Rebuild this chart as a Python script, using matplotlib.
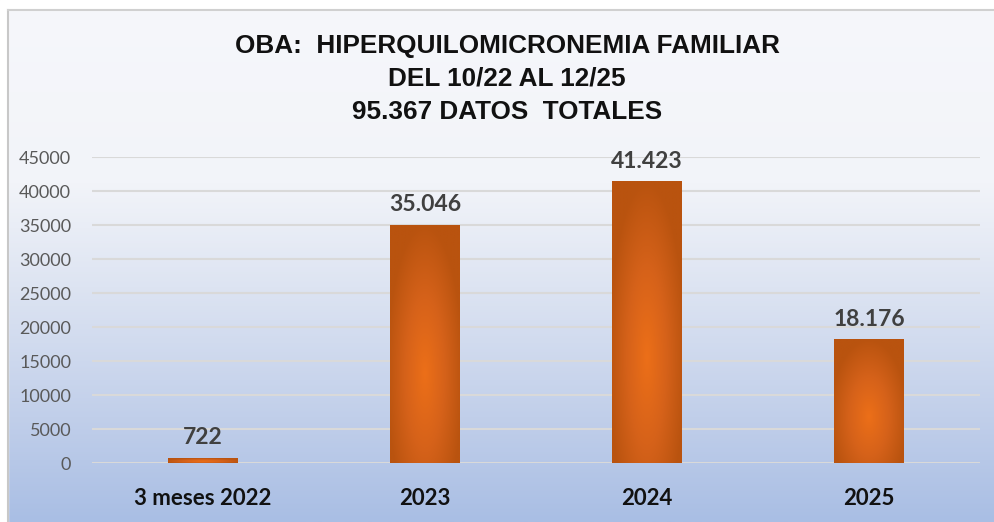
import numpy as np
import matplotlib
matplotlib.use("Agg")
import matplotlib.pyplot as plt
from matplotlib.colors import LinearSegmentedColormap

categories = ["3 meses 2022", "2023", "2024", "2025"]
values = [722, 35046, 41423, 18176]
value_labels = ["722", "35.046", "41.423", "18.176"]
yticks = [0, 5000, 10000, 15000, 20000, 25000, 30000, 35000, 40000, 45000]
title_lines = ["OBA:  HIPERQUILOMICRONEMIA FAMILIAR", "DEL 10/22 AL 12/25", "95.367 DATOS  TOTALES"]

W, H = 994, 522
fig = plt.figure(figsize=(W / 100, H / 100), dpi=100)

# background gradient
bg = fig.add_axes([0, 0, 1, 1], zorder=-10)
bg_cmap = LinearSegmentedColormap.from_list(
    "bg", [(0.0, "#f6f7fb"), (0.35, "#f2f4f9"), (0.55, "#dde4f2"), (0.8, "#c1cfea"), (1.0, "#a9bee4")])
grad = np.linspace(0, 1, 256).reshape(-1, 1)
bg.imshow(grad, aspect="auto", cmap=bg_cmap, extent=[0, 1, 0, 1], origin="upper")
bg.set_xlim(0, 1); bg.set_ylim(0, 1)
bg.axis("off")
# white top strip and border
bg.add_patch(plt.Rectangle((0, 1 - 10 / H), 1, 10 / H, color="white", zorder=2))
bg.add_patch(plt.Rectangle((0, 0), 8 / W, 1, color="white", zorder=2))
bg.plot([8 / W, 8 / W], [0, 1 - 10 / H], color="#c8c8c8", lw=1.5, zorder=3)
bg.plot([8 / W, 1], [1 - 10 / H, 1 - 10 / H], color="#d0d0d0", lw=1.5, zorder=3)

ax = fig.add_axes([92 / W, 1 - 463 / H, (980 - 92) / W, (463 - 157) / H])
ax.patch.set_alpha(0)
x = np.arange(len(categories))
bars = ax.bar(x, values, width=0.315, color="#d2621a", zorder=3)

# radial orange gradient inside bars
orange_cmap = LinearSegmentedColormap.from_list("or", ["#ec6f18", "#d6621a", "#b9530f"])
for b in bars:
    bx, by, bw, bh = b.get_x(), b.get_y(), b.get_width(), b.get_height()
    yy, xx = np.mgrid[-1:1:200j, -1:1:100j]
    r = np.sqrt((xx * 0.9) ** 2 + ((yy + 0.25) * 0.8) ** 2)
    im = ax.imshow(np.clip(r, 0, 1), cmap=orange_cmap, vmin=0, vmax=1,
                   extent=[bx, bx + bw, by, by + bh], aspect="auto", zorder=4, origin="lower")
    im.set_clip_path(b)

ax.set_xlim(-0.5, len(categories) - 0.5)
ax.set_ylim(0, 45000)
ax.set_yticks(yticks)
ax.set_yticklabels([str(t) for t in yticks], fontfamily="Lato", fontsize=13, color="#595959")
ax.set_xticks(x)
ax.set_xticklabels(categories, fontfamily="Lato", fontsize=16, fontweight="bold", color="#111111")
ax.tick_params(axis="both", length=0)
ax.tick_params(axis="y", pad=15)
ax.tick_params(axis="x", pad=18)
ax.yaxis.grid(True, color="#d9d9d9", lw=1.5, zorder=1)
ax.set_axisbelow(True)
for s in ax.spines.values():
    s.set_visible(False)

for xi, v, lab in zip(x, values, value_labels):
    ax.annotate(lab, (xi, v), xytext=(0, 7), textcoords="offset points", ha="center", va="bottom",
                fontfamily="Lato", fontsize=16.5, fontweight="bold", color="#404040", zorder=6,
                annotation_clip=False)

for i, line in enumerate(title_lines):
    fig.text(507 / W, 1 - (46 + 33 * i) / H, line, ha="center", va="center",
             fontfamily="Liberation Sans", fontsize=18.8, fontweight="bold", color="#111111")

fig.savefig("out.png", dpi=100)
